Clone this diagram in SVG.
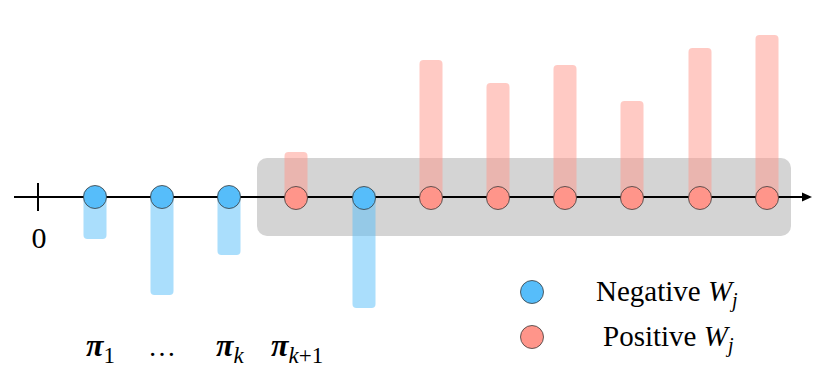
<svg xmlns="http://www.w3.org/2000/svg" width="830" height="389" viewBox="0 0 830 389">
  <style>
    .neg { fill: #56bdfa; stroke: #3a3a3a; stroke-width: 0.8; }
    .pos { fill: #ff958a; stroke: #3a3a3a; stroke-width: 0.8; }
    .nbar { fill: #56bdfa; opacity: 0.5; }
    .pbar { fill: #ff958a; opacity: 0.5; }
    .lbl { font-family: "Liberation Serif", "Times New Roman", serif; font-size: 28px; fill: #000; }
    .pi { font-style: italic; font-weight: bold; font-size: 32px; }
    .sub { font-size: 20px; }
    .psub { font-size: 23px; }
    .it { font-style: italic; }
  </style>
  <rect id="region" x="257" y="158" width="534" height="78" rx="10" fill="#d4d4d4"/>
  <g id="bars">
    <rect class="nbar" x="83.5" y="190" width="23" height="49" rx="4"/>
    <rect class="nbar" x="150.5" y="190" width="23" height="105" rx="4"/>
    <rect class="nbar" x="217.5" y="190" width="23" height="65" rx="4"/>
    <rect class="pbar" x="284.5" y="152" width="23" height="46" rx="4"/>
    <rect class="nbar" x="352.5" y="190" width="23" height="118" rx="4"/>
    <rect class="pbar" x="419.5" y="60" width="23" height="138" rx="4"/>
    <rect class="pbar" x="486.5" y="83" width="23" height="115" rx="4"/>
    <rect class="pbar" x="553.5" y="65" width="23" height="133" rx="4"/>
    <rect class="pbar" x="620.5" y="101" width="23" height="97" rx="4"/>
    <rect class="pbar" x="688.5" y="48" width="23" height="150" rx="4"/>
    <rect class="pbar" x="755.5" y="35" width="23" height="163" rx="4"/>
  </g>
  <g id="connectors">
    <line x1="14" y1="197" x2="803" y2="197" stroke="#000" stroke-width="2"/>
    <polygon points="812,197 802,192.5 802,201.5" fill="#000"/>
    <line x1="38" y1="183" x2="38" y2="211" stroke="#000" stroke-width="2"/>
  </g>
  <g id="origin"><text class="lbl" x="39" y="248" text-anchor="middle" style="font-size:30px">0</text></g>
  <g id="n1"><circle class="neg" cx="95" cy="197" r="11.5"/></g>
  <g id="n2"><circle class="neg" cx="162" cy="197" r="11.5"/></g>
  <g id="n3"><circle class="neg" cx="229" cy="197" r="11.5"/></g>
  <g id="n4"><circle class="pos" cx="296" cy="198" r="11.5"/></g>
  <g id="n5"><circle class="neg" cx="364" cy="198" r="11.5"/></g>
  <g id="n6"><circle class="pos" cx="431" cy="198" r="11.5"/></g>
  <g id="n7"><circle class="pos" cx="498" cy="198" r="11.5"/></g>
  <g id="n8"><circle class="pos" cx="565" cy="198" r="11.5"/></g>
  <g id="n9"><circle class="pos" cx="632" cy="198" r="11.5"/></g>
  <g id="n10"><circle class="pos" cx="700" cy="198" r="11.5"/></g>
  <g id="n11"><circle class="pos" cx="767" cy="198" r="11.5"/></g>
  <g id="labels">
    <text class="lbl" x="86" y="356"><tspan class="pi">π</tspan><tspan class="psub" dy="7">1</tspan></text>
    <text class="lbl" x="148" y="356">…</text>
    <text class="lbl" x="216" y="356"><tspan class="pi">π</tspan><tspan class="psub it" dy="7">k</tspan></text>
    <text class="lbl" x="271" y="356"><tspan class="pi">π</tspan><tspan class="psub" dy="7"><tspan class="it">k</tspan>+1</tspan></text>
  </g>
  <g id="legend-negative">
    <circle class="neg" cx="532" cy="292" r="11.5"/>
    <text class="lbl" x="596" y="301" style="font-size:29px">Negative <tspan class="it">W</tspan><tspan class="sub it" dy="6">j</tspan></text>
  </g>
  <g id="legend-positive">
    <circle class="pos" cx="532" cy="337" r="11.5"/>
    <text class="lbl" x="603" y="346" style="font-size:29px">Positive <tspan class="it">W</tspan><tspan class="sub it" dy="6">j</tspan></text>
  </g>
</svg>
